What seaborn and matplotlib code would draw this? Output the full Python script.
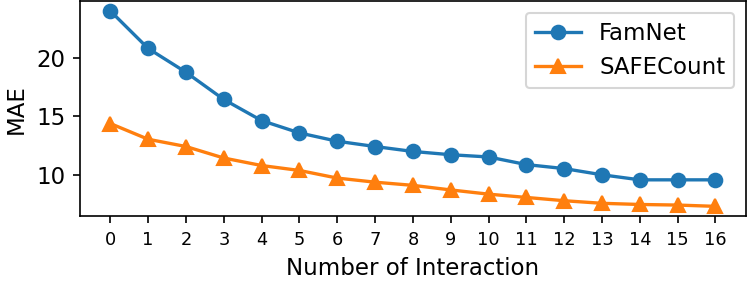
import matplotlib
matplotlib.use("Agg")
import matplotlib.pyplot as plt
import pandas as pd
import seaborn as sns

interactions = list(range(17))
famnet = [24.0, 20.8, 18.77, 16.45, 14.65, 13.6, 12.89, 12.44, 12.02, 11.74,
          11.55, 10.9, 10.56, 10.03, 9.6, 9.6, 9.6]
safecount = [14.4, 13.06, 12.44, 11.46, 10.82, 10.4, 9.75, 9.4, 9.13, 8.74,
             8.38, 8.1, 7.82, 7.6, 7.5, 7.45, 7.34]
methods = ["FamNet", "SAFECount"]

df = pd.concat([
    pd.DataFrame({"interaction": interactions, "mae": famnet, "method": "FamNet"}),
    pd.DataFrame({"interaction": interactions, "mae": safecount, "method": "SAFECount"}),
])

fig, ax = plt.subplots(figsize=(748 / 150, 284 / 150), dpi=150)
sns.lineplot(data=df, x="interaction", y="mae", hue="method", style="method",
             markers={"FamNet": "o", "SAFECount": "^"}, dashes=False,
             palette=["#1f77b4", "#ff7f0e"], linewidth=1.6, markersize=6.5,
             legend=False, ax=ax)

# plain matplotlib markers: edge in the line colour
for line in ax.lines:
    line.set_markeredgecolor(line.get_color())
    line.set_markeredgewidth(1.0)

ax.set_xticks(interactions)
ax.set_yticks([10, 15, 20])
ax.tick_params(axis="x", labelsize=8.5)
ax.tick_params(axis="y", labelsize=11)
ax.set_xlabel("Number of Interaction", fontsize=11)
ax.set_ylabel("MAE", fontsize=11)
ax.legend(ax.lines, methods, loc="upper right", fontsize=11)

fig.subplots_adjust(left=0.107, right=0.997, top=0.996, bottom=0.239)
fig.savefig("out.png", dpi=150)
